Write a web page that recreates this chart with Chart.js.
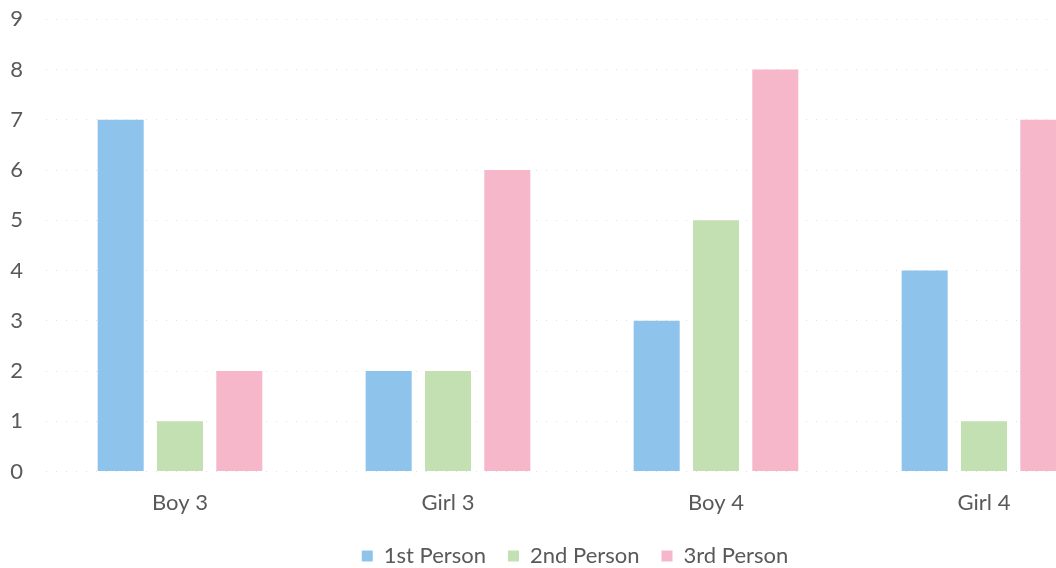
<!DOCTYPE html>
<html>
<head>
<meta charset="utf-8">
<script src="https://cdn.jsdelivr.net/npm/chart.js@4"></script>
<style>
html,body{margin:0;padding:0;background:#fff;overflow:hidden;}
#wrap{width:1125px;height:585px;position:relative;top:-17px;}
</style>
</head>
<body>
<div id="wrap"><canvas id="c"></canvas></div>
<script>
const categories = ["Boy 3", "Girl 3", "Boy 4", "Girl 4"];
const firstPerson = [7, 2, 3, 4];
const secondPerson = [1, 2, 5, 1];
const thirdPerson = [2, 6, 8, 7];
const yTicks = [0, 1, 2, 3, 4, 5, 6, 7, 8, 9];

const FONT = "Lato, 'Open Sans', sans-serif";
const TXT = "#595959";

const legendShift = {
  id: 'legendShift',
  afterLayout(chart) {
    if (chart.legend) { chart.legend.left -= 7; chart.legend.right -= 7; }
  }
};

new Chart(document.getElementById('c'), {
  type: 'bar',
  data: {
    labels: categories,
    datasets: [
      {label: "1st Person", data: firstPerson, backgroundColor: "#8ec4ec"},
      {label: "2nd Person", data: secondPerson, backgroundColor: "#c3e0b2"},
      {label: "3rd Person", data: thirdPerson, backgroundColor: "#f6b7cb"}
    ]
  },
  plugins: [legendShift],
  options: {
    responsive: true,
    maintainAspectRatio: false,
    animation: false,
    devicePixelRatio: 1,
    categoryPercentage: 0.664,
    barPercentage: 0.776,
    layout: {padding: {left: 8, right: 7, top: 6, bottom: -9}},
    plugins: {
      tooltip: {enabled: false},
      legend: {
        position: 'bottom',
        fullSize: false,
        labels: {
          font: {family: FONT, size: 22},
          color: TXT,
          boxWidth: 11,
          boxHeight: 11,
          padding: 22
        }
      }
    },
    scales: {
      x: {
        grid: {display: false},
        border: {display: false},
        ticks: {font: {family: FONT, size: 22}, color: TXT, padding: 10},
        afterFit: (s) => { s.height -= 3; }
      },
      y: {
        min: 0,
        max: 9,
        afterBuildTicks: (axis) => { axis.ticks = yTicks.map(v => ({value: v})); },
        grid: {color: "rgba(0,0,0,0.12)", drawTicks: false},
        border: {display: false, dash: [1, 9]},
        ticks: {font: {family: FONT, size: 22}, color: TXT, padding: 23},
        afterFit: (s) => { s.width = 38; }
      }
    }
  }
});
</script>
</body>
</html>
